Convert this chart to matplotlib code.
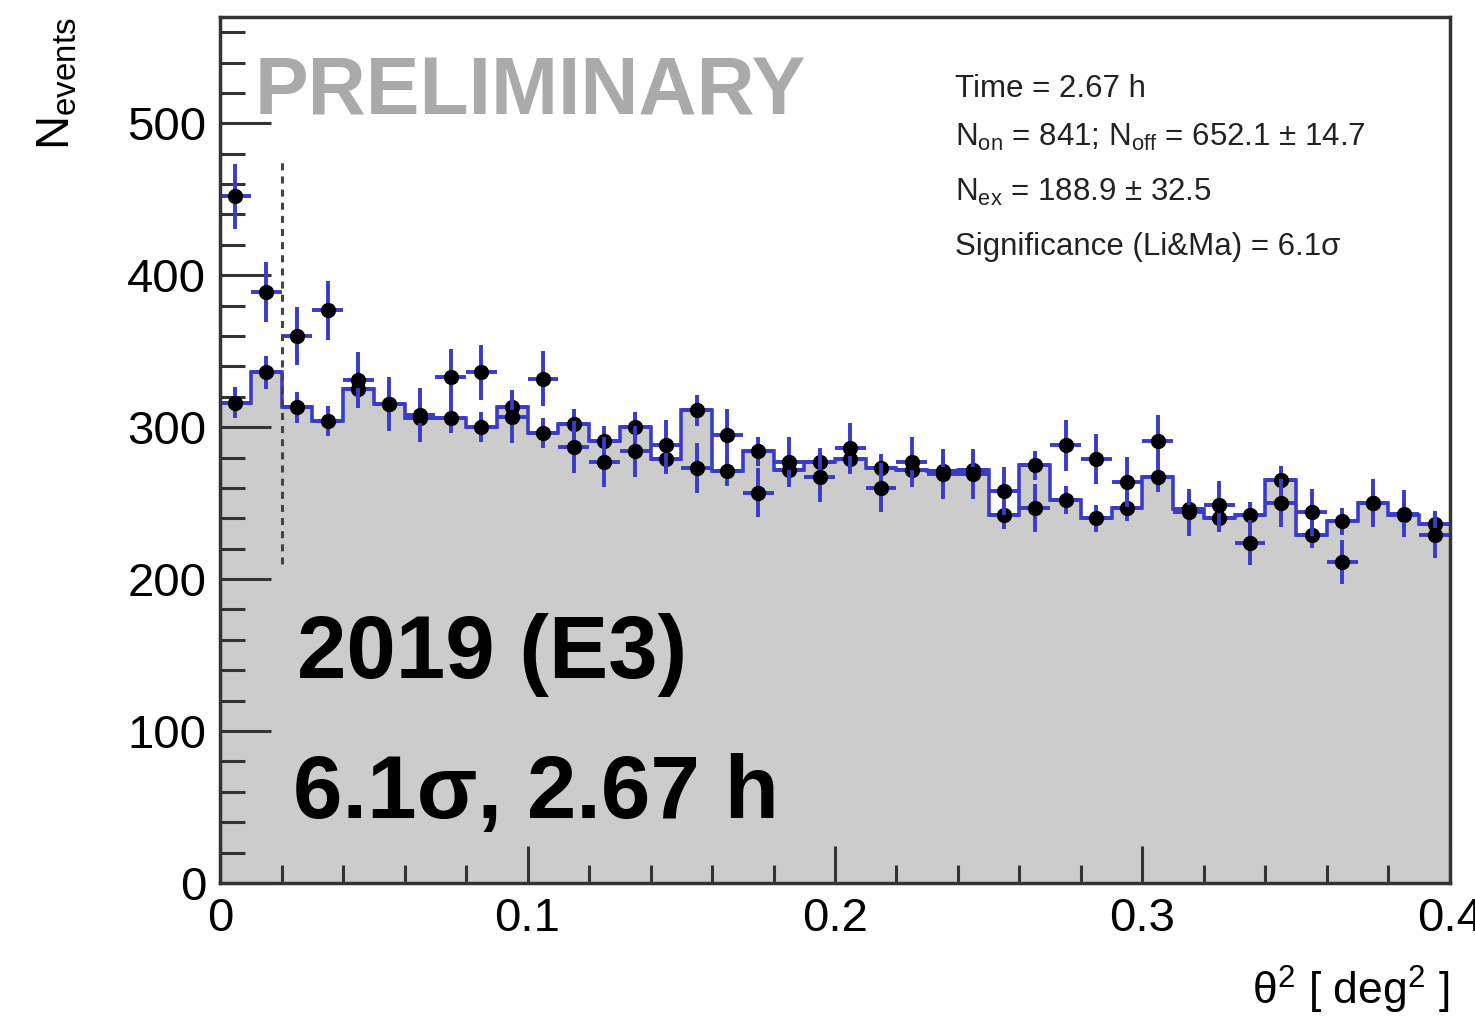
"""
theta2 plot: ON counts vs normalised OFF background, 2019 (E3).
Run: python plot.py
"""

import numpy as np
import matplotlib
matplotlib.use("Agg")
import matplotlib.pyplot as plt

plt.rcParams["font.family"] = ["Liberation Sans", "DejaVu Sans"]
plt.rcParams["mathtext.fontset"] = "custom"
plt.rcParams["mathtext.rm"] = "Liberation Sans"
plt.rcParams["mathtext.it"] = "Liberation Sans:italic"

OUT = "out.png"

# theta^2 binning (deg^2)
bin_edges = np.linspace(0.0, 0.4, 41)

# ON counts per bin
on_counts = [452, 389, 360, 377, 331, 315, 308, 333, 336, 307,
             332, 287, 277, 284, 288, 273, 295, 257, 277, 267,
             286, 260, 277, 269, 269, 258, 247, 288, 279, 264,
             291, 244, 249, 224, 250, 244, 211, 250, 243, 229]

# OFF counts (normalised) per bin
off_counts = [316, 336, 313, 304, 325, 315, 306, 306, 300, 313,
              296, 302, 291, 300, 279, 311, 271, 284, 272, 277,
              279, 273, 272, 271, 272, 242, 275, 252, 240, 247,
              267, 246, 240, 242, 265, 229, 238, 250, 242, 236]

off_alpha = 0.331  # normalisation of the OFF region
theta2_cut = 0.02

info_lines = [
    "Time = 2.67 h",
    r"N$_{\mathrm{on}}$ = 841; N$_{\mathrm{off}}$ = 652.1 $\pm$ 14.7",
    r"N$_{\mathrm{ex}}$ = 188.9 $\pm$ 32.5",
    "Significance (Li&Ma) = 6.1σ",
]

BLUE = "#3b3bc8"
GRAY = "#cccccc"


def main():
    on = np.array(on_counts, dtype=float)
    off = np.array(off_counts, dtype=float)
    centers = 0.5 * (bin_edges[:-1] + bin_edges[1:])
    half_w = 0.5 * np.diff(bin_edges)

    fig = plt.figure(figsize=(14.75, 10.17), dpi=100)
    ax = fig.add_axes([0.1492, 0.1318, 0.8338, 0.8515])

    ax.stairs(off, bin_edges, fill=True, color=GRAY, zorder=1)
    ax.stairs(off, bin_edges, baseline=None, color=BLUE, linewidth=2.6, zorder=2)

    ax.errorbar(centers, off, xerr=half_w, yerr=np.sqrt(off_alpha * off),
                fmt="o", color="black", ecolor=BLUE, elinewidth=2.8,
                markersize=10, capsize=0, zorder=3)
    ax.errorbar(centers, on, xerr=half_w, yerr=np.sqrt(on),
                fmt="o", color="black", ecolor=BLUE, elinewidth=2.8,
                markersize=10, capsize=0, zorder=4)

    ax.vlines(theta2_cut, 210, 475, colors="#444444", linestyles=(0, (2.3, 2)),
              linewidth=2.2, zorder=5)

    ax.set_xlim(0, 0.4)
    ax.set_ylim(0, 570)
    ax.set_xticks([0, 0.1, 0.2, 0.3, 0.4])
    ax.set_xticklabels(["0", "0.1", "0.2", "0.3", "0.4"])
    ax.set_xticks(np.arange(0, 0.401, 0.02), minor=True)
    ax.set_yticks([0, 100, 200, 300, 400, 500])
    ax.set_yticks(np.arange(0, 570, 20), minor=True)
    ax.tick_params(which="both", direction="in", labelsize=34, width=2.2,
                   color="#333333", pad=10)
    ax.tick_params(axis="y", which="major", length=37)
    ax.tick_params(axis="y", which="minor", length=18)
    ax.tick_params(axis="x", which="major", length=27)
    ax.tick_params(axis="x", which="minor", length=13)
    for spine in ax.spines.values():
        spine.set_linewidth(2.5)
        spine.set_color("#333333")
        spine.set_zorder(7)

    ax.set_ylabel(r"N$_{\mathrm{events}}$", fontsize=34, loc="top")
    ax.yaxis.set_label_coords(-0.114, 1.0)
    ax.set_xlabel(r"$\mathrm{\theta}^{2}$ [ deg$^{2}$ ]", fontsize=32, loc="right")
    ax.xaxis.set_label_coords(1.0, -0.093)

    ax.text(0.028, 0.912, "PRELIMINARY", transform=ax.transAxes, fontsize=58,
            fontweight="bold", color="#aaaaaa", va="center", ha="left", zorder=6)
    ax.text(0.0626, 0.263, "2019 (E3)", transform=ax.transAxes, fontsize=64,
            fontweight="bold", color="black", va="center", ha="left", zorder=6)
    ax.text(0.0593, 0.102, "6.1σ, 2.67 h", transform=ax.transAxes, fontsize=64,
            fontweight="bold", color="black", va="center", ha="left", zorder=6)

    for y, line in zip([0.917, 0.861, 0.797, 0.734], info_lines):
        ax.text(0.5976, y, line, transform=ax.transAxes, fontsize=22.5,
                color="#222222", va="center", ha="left", zorder=6)

    fig.savefig(OUT, dpi=100)
    plt.close(fig)


if __name__ == "__main__":
    main()
